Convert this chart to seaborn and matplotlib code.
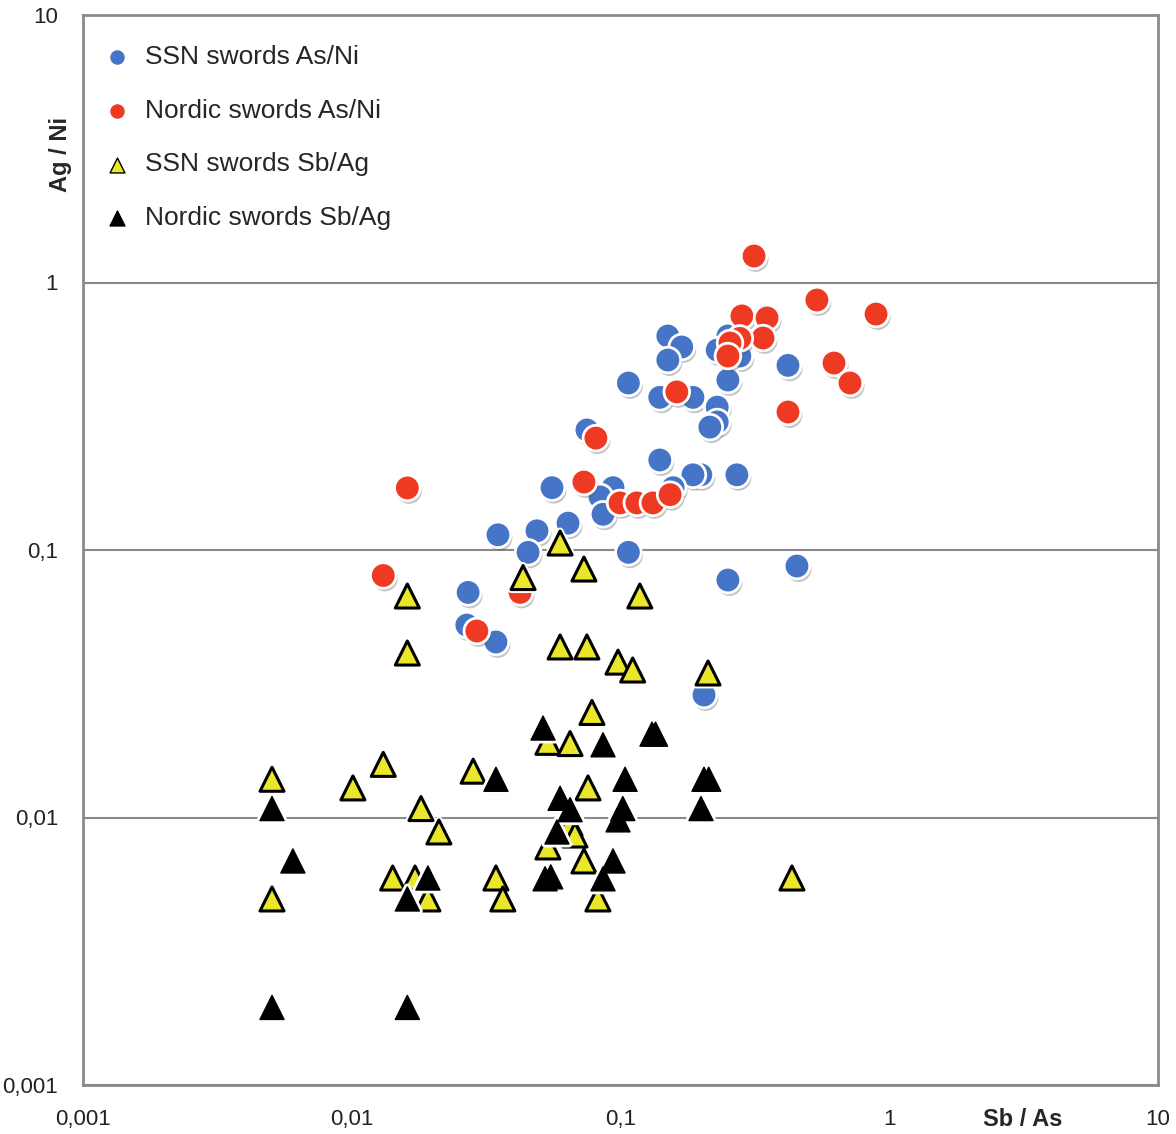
import numpy as np
import pandas as pd
import matplotlib
matplotlib.use("Agg")
import matplotlib.pyplot as plt
import matplotlib.patheffects as pe
from matplotlib.ticker import FixedLocator, FixedFormatter, NullLocator
import seaborn as sns

# SSN swords As/Ni (blue circles)
ssn_asni_x = [0.150, 0.169, 0.150, 0.107, 0.140, 0.186, 0.229, 0.229, 0.215, 0.251,
              0.251, 0.229, 0.278, 0.075, 0.140, 0.199, 0.186, 0.271, 0.0556, 0.0938,
              0.0839, 0.0861, 0.157, 0.035, 0.0489, 0.0638, 0.0453, 0.107, 0.0271, 0.251,
              0.4535, 0.42, 0.0268, 0.0344, 0.2045]
ssn_asni_y = [0.631, 0.574, 0.513, 0.421, 0.372, 0.372, 0.342, 0.301, 0.288, 0.432,
              0.631, 0.559, 0.531, 0.281, 0.217, 0.191, 0.191, 0.191, 0.171, 0.171,
              0.158, 0.136, 0.171, 0.114, 0.118, 0.126, 0.098, 0.098, 0.0694, 0.0772,
              0.0871, 0.49, 0.0524, 0.0453, 0.0287]

# Nordic swords As/Ni (red circles)
nordic_asni_x = [0.314, 0.538, 0.893, 0.283, 0.351, 0.339, 0.278, 0.2555, 0.251, 0.623,
                 0.7145, 0.42, 0.162, 0.081, 0.0731, 0.0996, 0.115, 0.132, 0.153, 0.0161,
                 0.0131, 0.0423, 0.0292]
nordic_asni_y = [1.256, 0.860, 0.762, 0.750, 0.737, 0.620, 0.618, 0.594, 0.531, 0.500,
                 0.421, 0.328, 0.390, 0.262, 0.1795, 0.150, 0.150, 0.150, 0.161, 0.1706,
                 0.0803, 0.0694, 0.0498]

# SSN swords Sb/Ag (yellow triangles)
ssn_sbag_x = [0.0596, 0.0434, 0.0731, 0.0161, 0.118, 0.0161, 0.0596, 0.075, 0.0979, 0.111,
              0.2117, 0.0783, 0.0537, 0.0649, 0.00505, 0.0101, 0.0131, 0.0283, 0.0757, 0.0181,
              0.0211, 0.0649, 0.0677, 0.0537, 0.0731, 0.0142, 0.0172, 0.0192, 0.0344, 0.0365,
              0.0824, 0.00505, 0.4345]
ssn_sbag_y = [0.1062, 0.0789, 0.0849, 0.0673, 0.0673, 0.0412, 0.0434, 0.0434, 0.0381, 0.0356,
              0.0347, 0.0247, 0.0191, 0.0189, 0.0139, 0.0129, 0.0158, 0.0149, 0.0129, 0.0108,
              0.00883, 0.0095, 0.0086, 0.00776, 0.00688, 0.00594, 0.00594, 0.00496, 0.00594, 0.00496,
              0.00496, 0.00496, 0.00594]

# Nordic swords Sb/Ag (black triangles)
nordic_sbag_x = [0.0515, 0.0861, 0.131, 0.135, 0.0344, 0.104, 0.2045, 0.213, 0.0596, 0.0649,
                 0.102, 0.0979, 0.1993, 0.00505, 0.058, 0.0938, 0.00604, 0.0192, 0.0161, 0.0524,
                 0.055, 0.0861, 0.00505, 0.0161]
nordic_sbag_y = [0.0216, 0.0187, 0.0205, 0.0205, 0.0139, 0.0139, 0.0139, 0.0139, 0.0118, 0.0107,
                 0.0108, 0.0098, 0.0108, 0.0108, 0.00883, 0.00688, 0.00688, 0.00594, 0.00496, 0.0059,
                 0.0060, 0.0059, 0.00195, 0.00195]

tick_values = [0.001, 0.01, 0.1, 1, 10]
tick_labels = ["0,001", "0,01", "0,1", "1", "10"]

sns.set_style("white")
plt.rcParams['font.family'] = ['Liberation Sans', 'DejaVu Sans']

fig = plt.figure(figsize=(11.76, 11.34), dpi=100)
ax = fig.add_axes([83 / 1176, 1 - 1085 / 1134, 1075 / 1176, 1070 / 1134])

shadow = pe.SimplePatchShadow(offset=(1.2, -2.2), shadow_rgbFace='#555555', alpha=0.35)
circle_fx = [shadow, pe.Normal()]
tri_fx = [shadow, pe.Stroke(linewidth=5, foreground='white'), pe.Normal()]

# draw the four series
sns.scatterplot(x=ssn_asni_x, y=ssn_asni_y, ax=ax, color='#4674C6', marker='o', s=340,
                edgecolor='white', linewidth=2, label='SSN swords As/Ni', zorder=3)
sns.scatterplot(x=nordic_asni_x, y=nordic_asni_y, ax=ax, color='#EE3A22', marker='o', s=340,
                edgecolor='white', linewidth=2, label='Nordic swords As/Ni', zorder=4)
sns.scatterplot(x=ssn_sbag_x, y=ssn_sbag_y, ax=ax, color='#EAE629', marker='^', s=300,
                edgecolor='black', linewidth=2.2, label='SSN swords Sb/Ag', zorder=5)
sns.scatterplot(x=nordic_sbag_x, y=nordic_sbag_y, ax=ax, color='black', marker='^', s=300,
                edgecolor='black', linewidth=1, label='Nordic swords Sb/Ag', zorder=6)

for coll, fx in zip(ax.collections, [circle_fx, circle_fx, tri_fx, tri_fx]):
    coll.set_path_effects(fx)

ax.set_xscale('log')
ax.set_yscale('log')
ax.set_xlim(0.001, 10)
ax.set_ylim(0.001, 10)
for axis in (ax.xaxis, ax.yaxis):
    axis.set_major_locator(FixedLocator(tick_values))
    axis.set_major_formatter(FixedFormatter(tick_labels))
    axis.set_minor_locator(NullLocator())

ax.tick_params(axis='both', which='major', direction='out', length=6, width=1.5,
               color='#8a8a8a', labelsize=16, labelcolor='#222222')
ax.tick_params(axis='x', pad=11)
ax.tick_params(axis='y', pad=12)

ax.yaxis.grid(True, color='#8a8a8a', linewidth=1.5)
ax.xaxis.grid(False)
ax.set_axisbelow(True)
for sp in ax.spines.values():
    sp.set_color('#8a8a8a')
    sp.set_linewidth(2)

ax.set_xlabel('')
ax.set_ylabel('')
fig.text(1023 / 1176, 1 - 1120 / 1134, 'Sb / As', ha='center', va='center',
         fontsize=17, fontweight='bold')
fig.text(60 / 1176, 1 - 155 / 1134, 'Ag / Ni', ha='center', va='center',
         rotation=90, fontsize=17, fontweight='bold')

leg = ax.legend(loc='upper left', bbox_to_anchor=(0.007, 0.982), borderaxespad=0,
                frameon=False, fontsize=19, markerscale=0.62, labelspacing=1.13,
                handletextpad=0.45, handlelength=1.2)
for h in leg.legend_handles:
    h.set_path_effects([])
    h.set_linewidth(1)

fig.savefig('out.png', dpi=100)
